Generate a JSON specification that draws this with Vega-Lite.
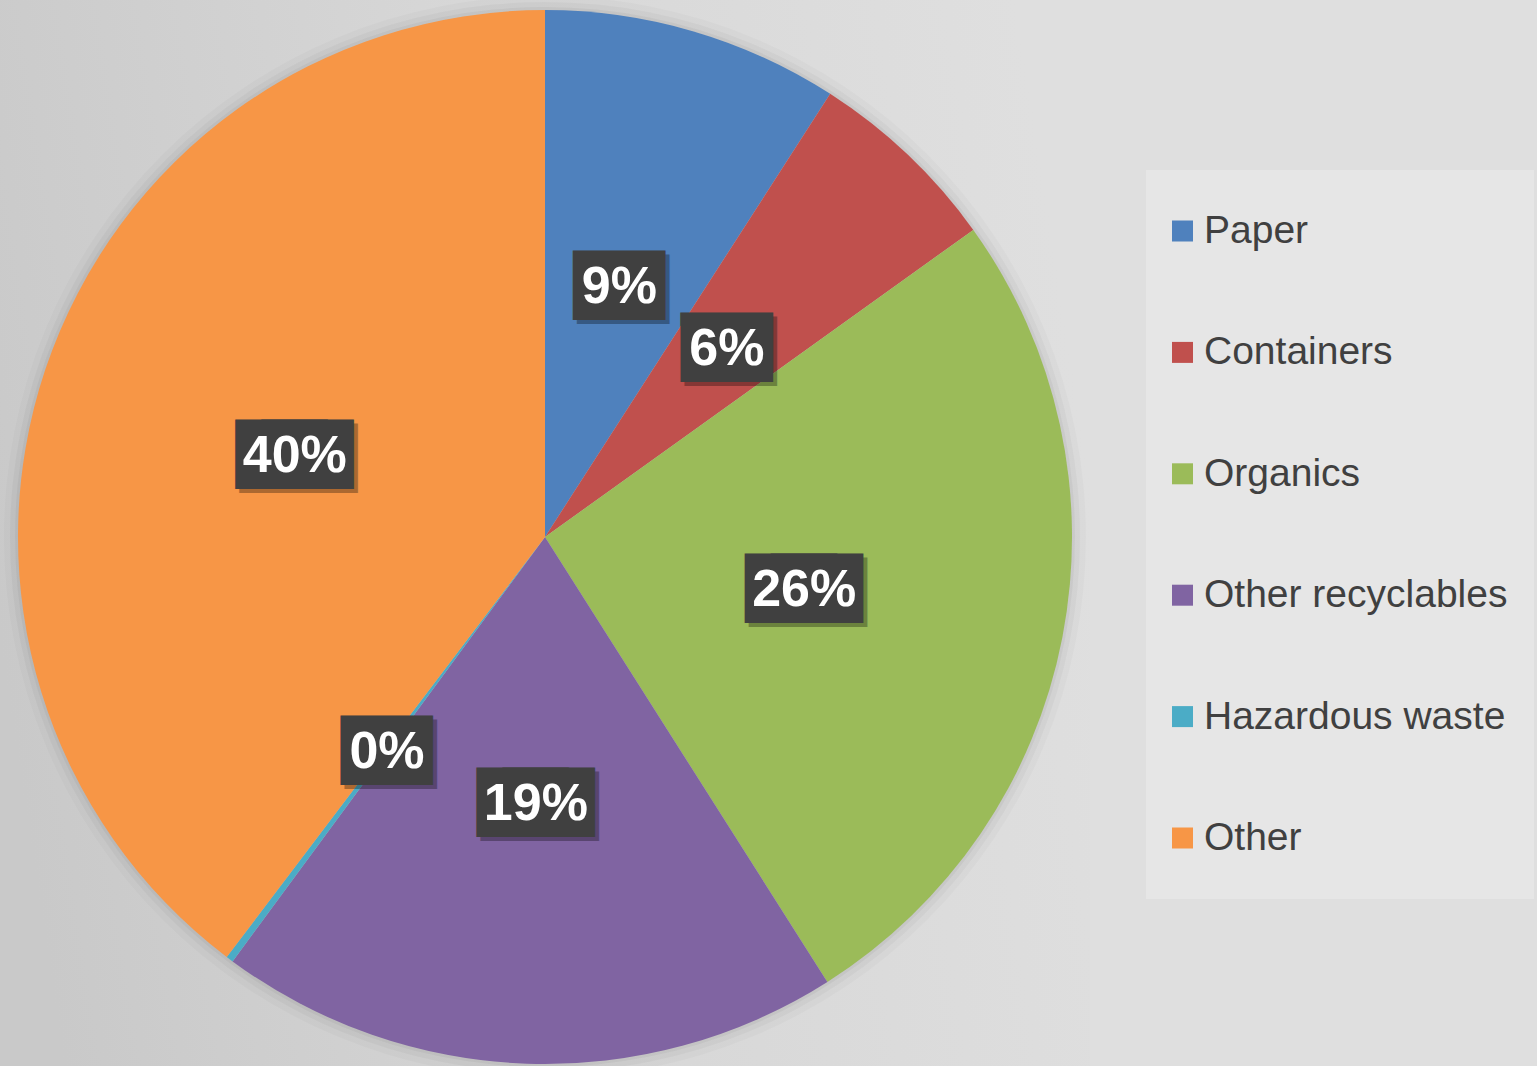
{
  "$schema": "https://vega.github.io/schema/vega-lite/v6.json",
  "width": 1090,
  "height": 1074,
  "autosize": {"type": "none"},
  "padding": {"top": 0, "left": 0, "right": 447, "bottom": -8},
  "background": "#dfdfdf",
  "config": {
    "view": {"stroke": null},
    "legend": {
      "orient": "none",
      "legendX": 1146,
      "legendY": 170,
      "fillColor": "#e6e6e6",
      "padding": 26,
      "labelFont": "Liberation Sans",
      "labelFontSize": 39,
      "labelColor": "#404040",
      "labelLimit": 0,
      "symbolType": "M-1,-0.3H-0.4V0.3H-1Z",
      "symbolSize": 4900,
      "symbolStrokeWidth": 0,
      "symbolOpacity": 1,
      "rowPadding": 66.4,
      "labelOffset": -38
    }
  },
  "data": {
    "values": [
      {"category": "Paper", "share": 0.091, "idx": 1},
      {"category": "Containers", "share": 0.060, "idx": 2},
      {"category": "Organics", "share": 0.259, "idx": 3},
      {"category": "Other recyclables", "share": 0.191, "idx": 4},
      {"category": "Hazardous waste", "share": 0.0022, "idx": 5},
      {"category": "Other", "share": 0.3968, "idx": 6}
    ]
  },
  "layer": [
    {
      "data": {"values": [{"panel": "background"}]},
      "mark": {
        "type": "rect",
        "color": {
          "gradient": "linear",
          "x1": 0, "y1": 0.6, "x2": 1, "y2": 0.45,
          "stops": [
            {"offset": 0, "color": "#c9c9c9"},
            {"offset": 0.5, "color": "#d7d7d7"},
            {"offset": 1, "color": "#dfdfdf"}
          ]
        }
      },
      "encoding": {}
    },
    {
      "data": {"values": [{"panel": "shadow"}]},
      "mark": {"type": "arc", "theta": 0, "theta2": 6.2832, "outerRadius": 541, "color": "#000000", "opacity": 0.02},
      "encoding": {}
    },
    {
      "data": {"values": [{"panel": "shadow"}]},
      "mark": {"type": "arc", "theta": 0, "theta2": 6.2832, "outerRadius": 535, "color": "#000000", "opacity": 0.03},
      "encoding": {}
    },
    {
      "data": {"values": [{"panel": "shadow"}]},
      "mark": {"type": "arc", "theta": 0, "theta2": 6.2832, "outerRadius": 530, "color": "#000000", "opacity": 0.04},
      "encoding": {}
    },
    {
      "mark": {"type": "arc", "outerRadius": 527},
      "encoding": {
        "theta": {"field": "share", "type": "quantitative", "stack": true},
        "order": {"field": "idx", "type": "quantitative"},
        "color": {
          "field": "category",
          "type": "nominal",
          "sort": ["Paper", "Containers", "Organics", "Other recyclables", "Hazardous waste", "Other"],
          "scale": {
            "domain": ["Paper", "Containers", "Organics", "Other recyclables", "Hazardous waste", "Other"],
            "range": ["#4f81bd", "#c0504d", "#9bbb59", "#8064a2", "#4bacc6", "#f79646"]
          },
          "legend": {"title": "\u00a0", "titleOrient": "bottom", "titleFontSize": 1, "titlePadding": 14}
        }
      }
    },
    {
      "mark": {
        "type": "text",
        "radius": 264,
        "font": "DejaVu Sans Mono",
        "fontSize": 43,
        "align": "center",
        "baseline": "middle",
        "fill": "#000000",
        "stroke": "#000000",
        "strokeWidth": 66,
        "strokeJoin": "miter",
        "opacity": 0.3,
        "dx": 4,
        "dy": 7
      },
      "encoding": {
        "theta": {"field": "share", "type": "quantitative", "stack": true},
        "order": {"field": "idx", "type": "quantitative"},
        "detail": {"field": "category", "type": "nominal"},
        "text": {"condition": {"test": "datum.share >= 0.095", "value": "──"}, "value": "─"}
      }
    },
    {
      "mark": {
        "type": "text",
        "radius": 264,
        "font": "DejaVu Sans Mono",
        "fontSize": 43,
        "align": "center",
        "baseline": "middle",
        "fill": "#404040",
        "stroke": "#404040",
        "strokeWidth": 66,
        "strokeJoin": "miter",
        "dy": 3
      },
      "encoding": {
        "theta": {"field": "share", "type": "quantitative", "stack": true},
        "order": {"field": "idx", "type": "quantitative"},
        "detail": {"field": "category", "type": "nominal"},
        "text": {"condition": {"test": "datum.share >= 0.095", "value": "──"}, "value": "─"}
      }
    },
    {
      "mark": {
        "type": "text",
        "radius": 264,
        "font": "Liberation Sans",
        "fontWeight": "bold",
        "fontSize": 52,
        "align": "center",
        "baseline": "middle",
        "fill": "#ffffff",
        "dy": 3
      },
      "encoding": {
        "theta": {"field": "share", "type": "quantitative", "stack": true},
        "order": {"field": "idx", "type": "quantitative"},
        "detail": {"field": "category", "type": "nominal"},
        "text": {"field": "share", "type": "quantitative", "format": ".0%"}
      }
    }
  ]
}
